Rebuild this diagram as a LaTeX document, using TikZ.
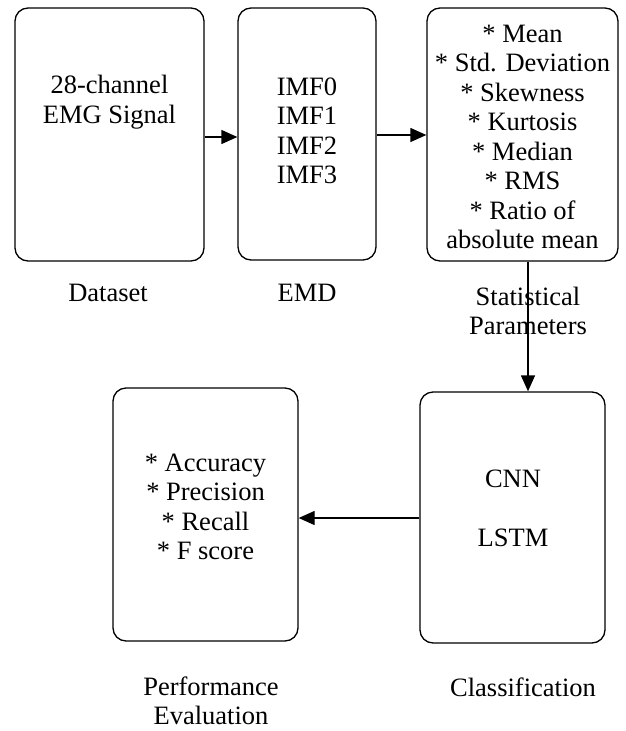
\documentclass[tikz,border=0pt]{standalone}
\usepackage{fontspec}
\setmainfont{Liberation Serif}
\usetikzlibrary{arrows.meta}
\begin{document}
\begin{tikzpicture}[x=1pt,y=-1pt,
  font=\fontsize{26.5}{29.5}\selectfont,
  stage/.style={draw,line width=1.3pt,rounded corners=13pt,inner sep=0pt},
  txt/.style={align=center,inner sep=0pt},
  flow/.style={line width=1.3pt,-{Triangle[length=16pt,width=14pt]}}]
\path[use as bounding box] (0,0) rectangle (625,731);

% stage boxes
\node[stage,minimum width=189pt,minimum height=253pt] (dset) at (109.5,134.5) {};
\node[stage,minimum width=138pt,minimum height=252pt] (emd) at (307,134) {};
\node[stage,minimum width=191pt,minimum height=253pt] (stat) at (522.5,134.5) {};
\node[stage,minimum width=185pt,minimum height=251pt] (cls) at (512.5,517.5) {};
\node[stage,minimum width=185pt,minimum height=253pt] (perf) at (205.5,514.5) {};

% box contents
\node[txt] (dsettxt) at (109.5,102) {28-channel\\EMG Signal};
\node[txt] (emdtxt) at (307,131) {IMF0\\IMF1\\IMF2\\IMF3};
\node[txt] (stattxt) at (522.5,137) {* Mean\\* Std. Deviation\\* Skewness\\* Kurtosis\\* Median\\* RMS\\* Ratio of\\absolute mean};
\node[txt] (clstxt) at (513,508) {CNN\\[29.5pt]LSTM};
\node[txt] (perftxt) at (205.5,507) {* Accuracy\\* Precision\\* Recall\\* F score};

% captions
\node[txt] (dsetcap) at (108,293) {Dataset};
\node[txt] (emdcap) at (307,293) {EMD};
\node[txt] (statcap) at (528,311) {Statistical\\Parameters};
\node[txt] (clscap) at (523,687) {Classification};
\node[txt] (perfcap) at (211,701) {Performance\\Evaluation};

% connectors
\draw[flow] (dset.east |- 0,137) -- (emd.west |- 0,137);
\draw[flow] (emd.east |- 0,135) -- (stat.west |- 0,135);
\draw[flow] (stat.south -| 528,0) -- (cls.north -| 528,0);
\draw[flow] (cls.west |- 0,518) -- (perf.east |- 0,518);
\end{tikzpicture}
\end{document}
